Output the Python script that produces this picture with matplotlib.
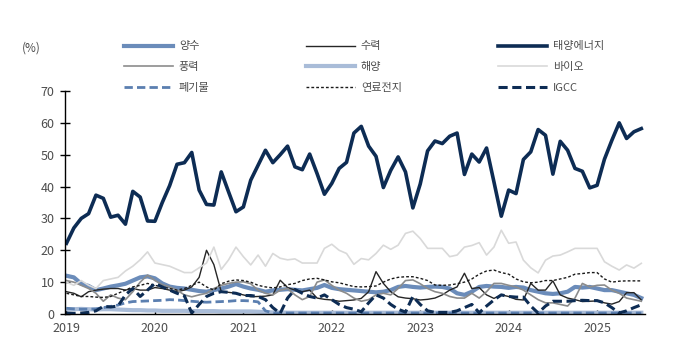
import matplotlib
matplotlib.use('Agg')
import matplotlib.pyplot as plt
import numpy as np

plt.rcParams['font.family'] = ['Noto Sans CJK KR', 'DejaVu Sans']

# monthly share (%), Jan 2019 ~ Jul 2025
years = ['2019', '2020', '2021', '2022', '2023', '2024', '2025']

pumped = [12, 11.5, 9.5, 8.8, 7.5, 8, 8.6, 9, 9.5, 10.5, 11.5, 11.8, 11.2, 9.6, 8.6, 8.2, 8, 7.6, 7.2, 7,
          7.5, 8, 8.6, 9.4, 8.6, 8, 7.6, 7, 7.4, 7.6, 7.8, 7.6, 7.4, 7.8, 8.2, 9.1, 8.2, 7.8, 7.6, 7.4,
          7.2, 7, 6.8, 7, 7.5, 8.5, 8.8, 8.5, 8.3, 8.5, 8.6, 8.5, 8, 6.5, 6, 7, 8.5, 8.8, 8.6, 8.5,
          8.2, 8.5, 8.3, 7.5, 7, 6.5, 6.3, 6.5, 7, 8.5, 8.3, 8.5, 8, 7.5, 7.5, 7, 6.5, 6, 5]
hydro = [7, 6.5, 5.4, 7, 7.5, 7.8, 8, 8, 7.5, 8, 7.5, 7.5, 8.3, 8, 7.5, 7, 7.5, 8.5, 11.5, 20,
         15.5, 7, 6.8, 6.5, 6, 5.4, 5.5, 5.6, 6, 10.6, 8.3, 7.5, 7, 7.5, 5, 4.6, 4.4, 4, 4.2, 4.4,
         4.9, 7, 13.3, 9.6, 7, 5.4, 5, 4.8, 4.4, 4.6, 5, 6, 7.5, 8.5, 12.8, 8, 8.3, 6, 4.9, 6,
         5.5, 4.6, 4.4, 9.6, 7.5, 7.5, 10.4, 6, 5, 4.5, 3.9, 4, 4.1, 3.5, 3.1, 3.9, 6.7, 6.7, 4.4]
solar = [22.2, 27, 30, 31.5, 37.3, 36.3, 30.4, 31, 28.2, 38.5, 36.7, 29.2, 29.1, 35, 40.3, 47, 47.5, 50.7,
         38.9, 34.4, 34.2, 44.6, 38.3, 32.1, 33.6, 42, 46.7, 51.4, 47.5, 50, 52.7, 46.2, 45.3, 50.2, 44.1,
         37.6, 41, 45.7, 47.6, 56.8, 58.9, 52.7, 49.5, 39.7, 45.1, 49.3, 44.6, 33.3, 40.8, 51.2, 54.3,
         53.5, 55.8, 56.8, 43.8, 50.2, 47.7, 52.1, 41.5, 30.7, 38.9, 37.8, 48.5, 50.9, 57.9, 56.1, 43.9,
         54.2, 51.4, 45.7, 44.8, 39.6, 40.4, 48.6, 54.5, 60, 55.1, 57.2, 58.2]
wind = [10.5, 10, 9, 8, 6.5, 4, 6, 5, 4.5, 7, 10, 12.2, 10.5, 9.2, 8.5, 7.5, 6, 5.4, 6, 6.5,
        8, 9, 9.6, 10, 10.1, 9.5, 7.5, 6.5, 6, 7.5, 8, 6, 4.5, 5.5, 10, 10.7, 9, 7.5, 6.5, 5,
        4, 4.5, 6, 6.5, 6, 8, 10.5, 10.7, 9.5, 8, 7, 6.5, 5.5, 5, 5, 6.5, 5, 7, 9.6, 9.6,
        9, 8.5, 7.5, 6, 4.5, 3.5, 3.5, 3, 2.5, 5, 9.6, 8.5, 9, 9.1, 7.5, 6.5, 5, 4.5, 4]
ocean = [1.5, 1.5, 1.6, 1.5, 1.4, 1.5, 1.5, 1.4, 1.3, 1.2, 1.2, 1.1, 1.1, 1, 1, 1, 1, 0.9, 0.9, 0.9,
         0.9, 0.8, 0.8, 0.8, 0.8, 0.8, 0.7, 0.6, 0.5, 0.5, 0.4, 0.4, 0.4, 0.4, 0.4, 0.4, 0.4, 0.4, 0.4, 0.4,
         0.4, 0.4, 0.4, 0.4, 0.4, 0.4, 0.4, 0.4, 0.4, 0.4, 0.4, 0.4, 0.4, 0.4, 0.4, 0.4, 0.4, 0.4, 0.4, 0.4,
         0.4, 0.4, 0.4, 0.4, 0.4, 0.4, 0.4, 0.4, 0.4, 0.4, 0.4, 0.4, 0.4, 0.4, 0.4, 0.4, 0.4, 0.4, 0.4]
bio = [10, 9, 10.5, 9, 8, 10.5, 11, 11.5, 13.5, 15, 17, 19.5, 16, 15.5, 15, 14, 13, 13, 14.5, 16,
       21, 14, 17, 21, 18, 15.4, 18.5, 15, 19, 17.5, 17, 17.3, 16, 16, 16, 20.6, 21.9, 20, 19, 15.6,
       17.4, 17, 19, 21.6, 20.3, 21.6, 25.3, 26, 23.7, 20.6, 20.6, 20.6, 18, 18.5, 21, 21.5, 22.4, 18.5, 21, 26.3,
       22.2, 22.6, 16.9, 14.5, 12.9, 16.9, 18.2, 18.5, 19.5, 20.6, 20.6, 20.6, 20.6, 16.4, 15, 13.8, 15.4, 14.4, 15.9]
waste = [1.8, 1.6, 1.5, 1.5, 1.6, 2, 2.4, 2.8, 3.5, 3.9, 4, 4.1, 4.2, 4.3, 4.5, 4.4, 4.2, 4, 3.8, 3.7,
         3.8, 3.9, 4, 4.2, 4.2, 4.1, 3.8, 1, 0.3, 0.3, 0.3, 0.3, 0.3, 0.3, 0.3, 0.3, 0.3, 0.3, 0.3, 0.3,
         0.3, 0.3, 0.3, 0.3, 0.3, 0.3, 0.3, 0.3, 0.3, 0.3, 0.3, 0.3, 0.3, 0.3, 0.3, 0.3, 0.3, 0.3, 0.3, 0.3,
         0.3, 0.3, 0.3, 0.3, 0.3, 0.3, 0.3, 0.3, 0.3, 0.3, 0.3, 0.3, 0.3, 0.3, 0.3, 0.3, 0.3, 0.3, 0.3]
fuelcell = [6.5, 6, 5.5, 5.5, 5.3, 5.2, 5.5, 6.5, 7.5, 8.5, 9, 9.6, 9, 8.5, 8, 7.5, 8, 9, 10, 8.5,
            7.5, 9.5, 10.3, 10.7, 10.5, 10, 9, 8.5, 8.2, 8.5, 9.2, 9.6, 10.5, 11, 11.2, 10.7, 10.1, 9.8, 9.2, 8.6,
            8.5, 8.6, 8.8, 10, 11, 11.5, 11.7, 11.7, 11.2, 10.5, 9.1, 9, 9.1, 9.5, 10, 11, 12.5, 13.5, 13.8, 13,
            12.5, 11, 10.1, 9.8, 10, 10.5, 10.5, 11, 11.5, 12.5, 12.7, 13, 13, 11, 10, 10.3, 10.4, 10.4, 10.4]
igcc = [0.3, 0.2, 0.3, 0.5, 1, 2.4, 2.2, 2.5, 6, 8, 5.5, 7.5, 9.6, 8.5, 7.5, 6.5, 5.7, 0.3, 3, 5.5,
        6.5, 7, 6.8, 6.5, 5.8, 5.8, 5.5, 4.5, 2, 0.2, 5, 7.7, 6.5, 5.5, 5, 6, 4.5, 3, 2, 1.5,
        0.7, 3.5, 6, 5, 3, 1.5, 0.6, 5.5, 3, 1, 0.5, 0.5, 0.5, 1, 2, 3, 0.4, 2.5, 4.4, 6,
        5.5, 5.3, 5.3, 2.5, 0.3, 2.5, 4, 4, 4, 4.2, 4.3, 4.2, 4.2, 3.5, 2, 0.3, 1, 2, 2.9]

x = np.arange(len(solar))

fig = plt.figure(figsize=(6.79, 3.54), dpi=100)
ax = fig.add_axes([65 / 679, 40 / 354, 580 / 679, 223 / 354])

l_pumped, = ax.plot(x, pumped, color='#6b8cba', lw=3, label='양수')
l_hydro, = ax.plot(x, hydro, color='#262626', lw=1, label='수력')
l_solar, = ax.plot(x, solar, color='#0d2c54', lw=2.6, label='태양에너지')
l_wind, = ax.plot(x, wind, color='#8c8c8c', lw=1.2, label='풍력')
l_ocean, = ax.plot(x, ocean, color='#a9bcd8', lw=3, label='해양')
l_bio, = ax.plot(x, bio, color='#d9d9d9', lw=1.2, label='바이오')
l_waste, = ax.plot(x, waste, color='#5b7fb0', lw=2, ls=(0, (3, 1.5)), label='폐기물')
l_fuel, = ax.plot(x, fuelcell, color='#1a1a1a', lw=1, ls=(0, (2, 1.5)), label='연료전지')
l_igcc, = ax.plot(x, igcc, color='#0d2c54', lw=2.2, ls=(0, (3, 1.5)), label='IGCC')

ax.set_ylim(0, 70)
ax.set_xlim(-0.2, 78.5)
ax.set_yticks(range(0, 71, 10))
ax.set_xticks(range(0, len(solar), 12))
ax.set_xticklabels(years)
for s in ['top', 'right']:
    ax.spines[s].set_visible(False)
ax.spines['left'].set_linewidth(1)
ax.spines['bottom'].set_linewidth(1)
ax.tick_params(axis='y', direction='inout', length=7, width=1, labelsize=9, labelcolor='#4d4d4d', pad=4)
ax.tick_params(axis='x', direction='in', length=3, width=1, labelsize=9, labelcolor='#4d4d4d', pad=6)

fig.text(22 / 679, 1 - 48 / 354, '(%)', fontsize=8.5, color='#4d4d4d', va='center')

# legend fills column by column, so order handles to read row by row
handles = [l_pumped, l_wind, l_waste, l_hydro, l_ocean, l_fuel, l_solar, l_bio, l_igcc]
fig.legend(handles=handles, labels=[h.get_label() for h in handles],
           loc='upper left', bbox_to_anchor=(120 / 679, 1 - 37 / 354), ncol=3, frameon=False,
           fontsize=8, handlelength=4.4, handletextpad=0.5, columnspacing=8.7, labelspacing=0.95,
           borderaxespad=0, labelcolor='#4d4d4d')

fig.savefig('out.png', dpi=100)
